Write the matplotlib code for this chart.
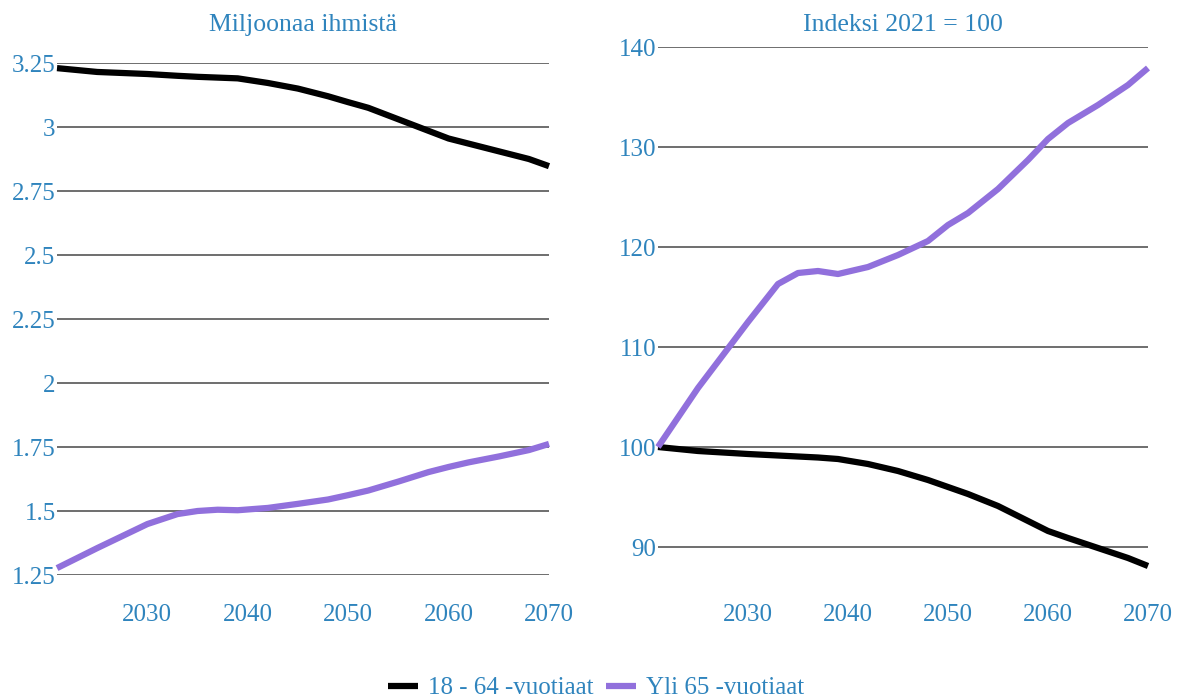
import matplotlib
matplotlib.use('Agg')
import matplotlib.pyplot as plt

# Data
years = [2021, 2025, 2030, 2033, 2035, 2037, 2039, 2042, 2045, 2048,
         2050, 2052, 2055, 2058, 2060, 2062, 2065, 2068, 2070]

# Millions of people
working_mil = [3.23, 3.215, 3.207, 3.200, 3.196, 3.193, 3.19, 3.172, 3.15, 3.12,
               3.097, 3.075, 3.03, 2.985, 2.955, 2.935, 2.905, 2.875, 2.847]
elderly_mil = [1.277, 1.355, 1.449, 1.488, 1.500, 1.505, 1.503, 1.512, 1.528, 1.545,
               1.562, 1.58, 1.615, 1.652, 1.672, 1.69, 1.713, 1.738, 1.762]

# Index 2021 = 100
working_idx = [100, 99.6, 99.3, 99.15, 99.05, 98.95, 98.8, 98.3, 97.6, 96.7,
               96.0, 95.3, 94.1, 92.6, 91.6, 90.9, 89.9, 88.9, 88.1]
elderly_idx = [100, 105.9, 112.5, 116.3, 117.4, 117.6, 117.3, 118.0, 119.2, 120.6,
               122.2, 123.4, 125.8, 128.7, 130.8, 132.4, 134.2, 136.2, 137.9]

left_ticks = [1.25, 1.5, 1.75, 2, 2.25, 2.5, 2.75, 3, 3.25]
left_labels = ['1.25', '1.5', '1.75', '2', '2.25', '2.5', '2.75', '3', '3.25']
right_ticks = [90, 100, 110, 120, 130, 140]
x_ticks = [2030, 2040, 2050, 2060, 2070]

labels = ['18 - 64 -vuotiaat', 'Yli 65 -vuotiaat']
titles = ['Miljoonaa ihmistä', 'Indeksi 2021 = 100']

BLUE = '#2f84bd'
BLACK = '#000000'
PURPLE = '#9170dc'
GRID = '#6e6e6e'
FS = 18

plt.rcParams['font.family'] = ['Liberation Serif', 'DejaVu Serif']

fig = plt.figure(figsize=(11.81, 7.0), dpi=100)
ax1 = fig.add_axes([57 / 1181, 1 - 575 / 700, (549 - 57) / 1181, (575 - 63) / 700])
ax2 = fig.add_axes([658 / 1181, 1 - 575 / 700, (1148 - 658) / 1181, (575 - 47) / 700])


def style(ax):
    for s in ax.spines.values():
        s.set_visible(False)
    ax.set_xlim(2021, 2070)
    ax.set_xticks(x_ticks)
    ax.tick_params(axis='both', length=0, labelsize=FS, labelcolor=BLUE)
    ax.tick_params(axis='x', pad=21)
    ax.tick_params(axis='y', pad=1)
    ax.grid(axis='y', color=GRID, linewidth=1.4)
    ax.grid(axis='x', visible=False)
    ax.set_axisbelow(True)


kw = dict(linewidth=4.5, solid_joinstyle='round', solid_capstyle='butt', clip_on=False)

l1, = ax1.plot(years, working_mil, color=BLACK, label=labels[0], **kw)
l2, = ax1.plot(years, elderly_mil, color=PURPLE, label=labels[1], **kw)
ax1.set_ylim(1.25, 3.25)
ax1.set_yticks(left_ticks)
ax1.set_yticklabels(left_labels)
style(ax1)

ax2.plot(years, working_idx, color=BLACK, **kw)
ax2.plot(years, elderly_idx, color=PURPLE, **kw)
ax2.set_ylim(87.2, 140)
ax2.set_yticks(right_ticks)
style(ax2)

# panel titles
fig.text(303 / 1181, 1 - 25 / 700, titles[0], color=BLUE, fontsize=FS + 0.5,
         ha='center', va='center')
fig.text(903 / 1181, 1 - 25 / 700, titles[1], color=BLUE, fontsize=FS + 0.5,
         ha='center', va='center')

leg = fig.legend(handles=[l1, l2], labels=labels, loc='center', bbox_to_anchor=(0.505, 0.017),
                 ncol=2, frameon=False, fontsize=FS, handlelength=1.2, handletextpad=0.4,
                 columnspacing=0.5)
for t in leg.get_texts():
    t.set_color(BLUE)

fig.savefig('out.png', dpi=100)
